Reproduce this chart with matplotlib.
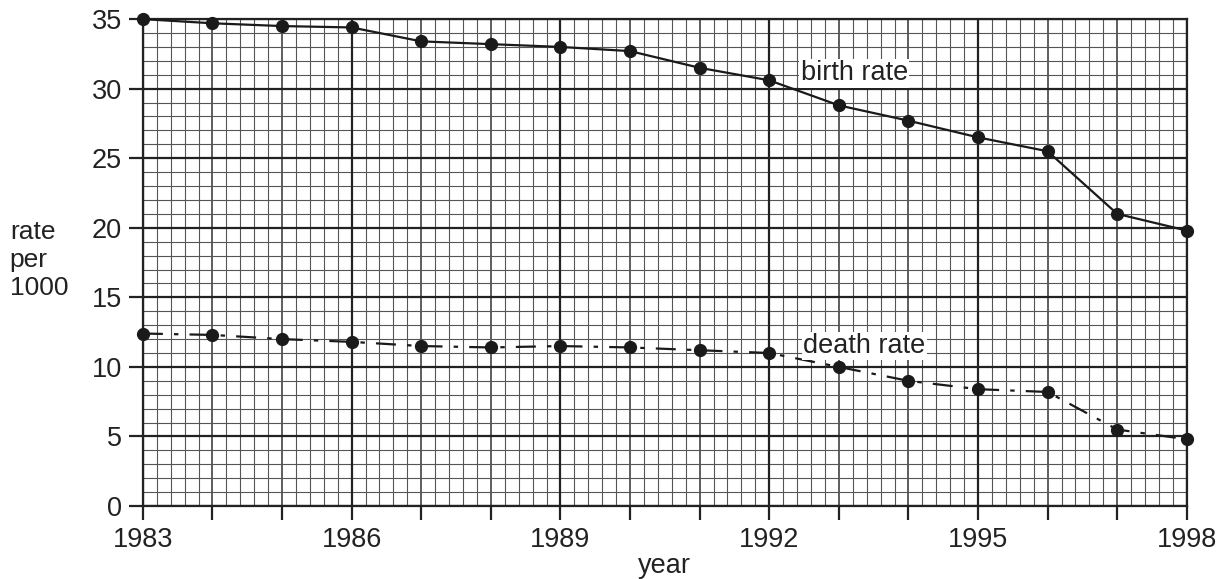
import matplotlib.pyplot as plt
import numpy as np
from matplotlib.ticker import MultipleLocator

plt.rcParams['font.family'] = ['Liberation Sans', 'DejaVu Sans']

years = np.arange(1983, 1999)
birth_rate = [35.0, 34.7, 34.5, 34.4, 33.4, 33.2, 33.0, 32.7, 31.5, 30.6,
              28.8, 27.7, 26.5, 25.5, 21.0, 19.8]
death_rate = [12.4, 12.3, 12.0, 11.8, 11.5, 11.4, 11.5, 11.4, 11.2, 11.0,
              10.0, 9.0, 8.4, 8.2, 5.5, 4.8]

fig = plt.figure(figsize=(12.21, 5.79), dpi=100)
ax = fig.add_axes([0.117, 0.126, 0.855, 0.841])

ax.plot(years, birth_rate, color='#1a1a1a', lw=1.6, marker='o', ms=8.5, zorder=5, clip_on=False)
ax.plot(years, death_rate, color='#1a1a1a', lw=1.6, marker='o', ms=8.5,
        linestyle=(0, (9, 5, 2, 5)), zorder=5, clip_on=False)

ax.set_xlim(1983, 1998)
ax.set_ylim(0, 35)

# graph paper grid
ax.xaxis.set_major_locator(MultipleLocator(1))
ax.xaxis.set_minor_locator(MultipleLocator(0.2))
ax.yaxis.set_major_locator(MultipleLocator(5))
ax.yaxis.set_minor_locator(MultipleLocator(1))
ax.grid(which='minor', color='#555555', lw=0.8)
ax.grid(which='major', axis='y', color='#222222', lw=1.6)
ax.grid(which='major', axis='x', color='#333333', lw=1.1)
for x in range(1983, 1999, 3):
    ax.axvline(x, color='#222222', lw=1.6, zorder=1)
ax.set_axisbelow(True)

ax.set_xticks(years)
ax.set_xticklabels([str(y) if (y - 1983) % 3 == 0 else '' for y in years])
ax.tick_params(which='major', length=10, width=1.6, labelsize=19.5, color='#222222', labelcolor='#222222', pad=5)
ax.tick_params(which='minor', length=0)
ax.tick_params(axis='y', length=10)

for s in ax.spines.values():
    s.set_color('#222222')
    s.set_linewidth(1.6)

ax.text(1993.22, 31.1, 'birth rate', fontsize=19.5, color='#222222', ha='center', va='center',
        bbox=dict(facecolor='white', edgecolor='none', pad=1), zorder=6)
ax.text(1993.37, 11.5, 'death rate', fontsize=19.5, color='#222222', ha='center', va='center',
        bbox=dict(facecolor='white', edgecolor='none', pad=1), zorder=6)

ax.set_xlabel('year', fontsize=19.5, color='#222222', labelpad=0)
fig.text(0.008, 0.551, 'rate\nper\n1000', fontsize=19, color='#222222', ha='left', va='center',
         linespacing=1.2)

fig.savefig('out.png', dpi=100)
